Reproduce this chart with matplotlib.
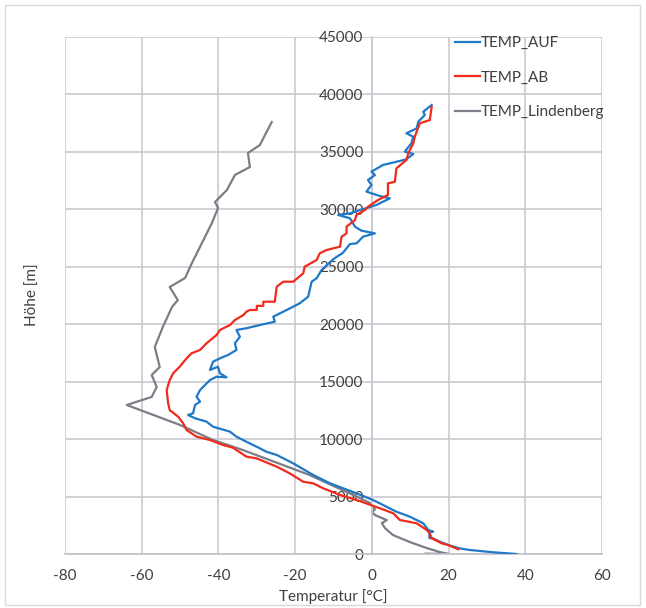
import matplotlib
matplotlib.use("Agg")
import matplotlib.pyplot as plt
from matplotlib.patches import Rectangle

# ---------------- data (temperature °C, height m) ----------------
auf_temp = [37.7, 31.6, 25.5, 22.9, 19.9, 17.5, 16.0, 15.0, 15.0, 16.0, 14.7, 13.4, 9.9, 6.4, 3.8,
            0.3, -4.0, -10.9, -15.3, -20.5, -24.8, -27.5, -29.2, -32.7, -35.3, -37.0, -41.4,
            -43.1, -46.1, -47.9, -46.6, -46.1, -44.8, -45.7, -44.8, -43.5, -42.2, -40.5, -37.9,
            -39.6, -40.1, -42.2, -41.4, -39.6, -37.5, -35.3, -35.7, -34.4, -35.3, -32.7, -29.2,
            -25.3, -25.7, -22.2, -18.8, -16.6, -15.7, -14.4, -13.1, -10.1, -7.5, -5.7, -4.0,
            -2.3, 0.8, -2.7, -4.4, -5.7, -8.8, -5.7, -3.1, 1.2, 4.7, 2.1, -1.4, -0.1, -1.0, 0.8,
            -0.1, 2.9, 6.4, 9.0, 10.8, 8.6, 10.3, 10.8, 9.0, 11.7, 12.1, 13.8, 13.4, 15.6]
auf_height = [0, 150, 350, 490, 780, 1100, 1350, 1400, 1900, 1940, 2090, 2670, 3250, 3680, 4120,
              4700, 5280, 6150, 6880, 7890, 8620, 8900, 9200, 9770, 10210, 10650, 11080,
              11520, 11810, 12100, 12250, 12970, 13260, 13690, 14270, 14710, 15140, 15430, 15380,
              15730, 16300, 16020, 16740, 17030, 17320, 17760, 18340, 18910, 19500, 19650, 19930,
              20220, 20660, 21240, 21820, 22400, 23700, 24000, 24720, 25650, 26230, 26980, 27040,
              27620, 27910, 28140, 28490, 29220, 29510, 29650, 29940, 30380, 30960, 31160, 31540,
              32120, 32550, 32990, 33280, 33860, 34140, 34350, 34820, 35020, 35750, 36320, 36620,
              37050, 37630, 38210, 38500, 39080]

ab_temp = [22.5, 19.9, 18.2, 15.6, 15.1, 14.3, 11.7, 7.3, 5.6, 2.1, -3.1, -8.3, -12.7, -15.3,
           -17.9, -21.4, -24.8, -30.1, -32.7, -36.2, -38.8, -42.2, -45.7, -48.3, -49.2, -50.5,
           -52.7, -53.1, -53.5, -52.7, -51.8, -50.1, -48.3, -47.0, -44.8, -43.1, -40.5, -39.6,
           -37.0, -35.7, -33.5, -32.7, -31.8, -30.0, -30.0, -28.3, -28.3, -25.3, -24.8, -23.1,
           -20.5, -17.9, -17.5, -14.4, -13.6, -11.8, -8.3, -7.9, -6.6, -6.6, -4.4, -4.0, -1.8,
           -1.0, 1.6, 4.2, 4.2, 6.0, 6.4, 9.0, 9.5, 10.8, 11.2, 12.5, 15.1, 15.6]
ab_height = [410, 780, 930, 1370, 1800, 2090, 2670, 2960, 3540, 3980, 4600, 5140, 5720, 6150,
             6290, 7020, 7600, 8330, 8470, 9250, 9490, 9920, 10210, 10790, 11380, 11950, 12530,
             13120, 14270, 15140, 15730, 16300, 17030, 17470, 17760, 18340, 19060, 19500, 19930,
             20370, 20800, 21090, 21240, 21240, 21600, 21600, 21960, 21960, 23270, 23700, 23700,
             24430, 25010, 25590, 26170, 26460, 26750, 27620, 27910, 28490, 29070, 29510, 29940,
             30230, 30810, 31250, 32260, 32400, 33570, 34290, 34880, 35750, 36320, 37490, 37770,
             38930]

lind_temp = [14.0, 20.0, 17.7, 14.3, 9.9, 5.5, 3.4, 2.6, 3.9, 0.8, 0.0, 0.8, -0.5, -3.1, -10.2,
             -11.7, -16.2, -33.6, -41.4, -50.0, -63.9, -57.4, -56.1, -57.4, -55.3, -56.6, -54.5,
             -52.1, -50.6, -52.7, -48.7, -46.9, -41.7, -40.1, -40.9, -37.8, -35.7, -31.8, -32.3,
             -29.2, -26.1]
lind_height = [30, 0, 170, 520, 1040, 1650, 2260, 2700, 2950, 3390, 3660, 3900, 4440, 4870, 5950,
               6180, 6870, 9050, 9920, 11230, 12970, 13670, 14540, 15580, 16280, 18020, 19760,
               21500, 22100, 23240, 24020, 25330, 28810, 30120, 30640, 31680, 32990, 33680, 34900,
               35600, 37600]

x_ticks = [-80, -60, -40, -20, 0, 20, 40, 60]
y_ticks = [0, 5000, 10000, 15000, 20000, 25000, 30000, 35000, 40000, 45000]

series_names = ["TEMP_AUF", "TEMP_AB", "TEMP_Lindenberg"]
colors = ["#1f78c8", "#f22a1c", "#7d7d88"]

# ---------------- figure ----------------
plt.rcParams['font.family'] = ['Lato', 'DejaVu Sans']
W, H = 646, 608
fig = plt.figure(figsize=(W / 100, H / 100), dpi=100)
fig.patches.append(Rectangle((5 / W, 3 / H), 635 / W, 600 / H, transform=fig.transFigure,
                             fill=False, edgecolor="#d9d9d9", linewidth=1.0))

ax = fig.add_axes([65 / W, (H - 554) / H, (602 - 65) / W, (554 - 37) / H])
ax.set_xlim(-80, 60)
ax.set_ylim(0, 45000)

grid_c = "#c9c9d1"
ax.grid(True, color=grid_c, linewidth=1.2)
ax.set_axisbelow(True)
for s in ["top", "right"]:
    ax.spines[s].set_visible(False)
ax.spines["left"].set_position(("data", 0))
ax.spines["left"].set_color(grid_c)
ax.spines["left"].set_linewidth(1.2)
ax.spines["bottom"].set_color("#c0c0c8")
ax.spines["bottom"].set_linewidth(1.2)

ax.set_xticks(x_ticks)
ax.set_xticklabels([str(v) for v in x_ticks])
ax.set_yticks(y_ticks)
ax.set_yticklabels([str(v) for v in y_ticks])
ax.tick_params(axis="both", length=0, labelsize=11, labelcolor="#404040")
ax.tick_params(axis="x", pad=11)
ax.tick_params(axis="y", pad=6)

lw = 1.6
ax.plot(auf_temp, auf_height, color=colors[0], lw=lw, label=series_names[0], zorder=3)
ax.plot(ab_temp, ab_height, color=colors[1], lw=lw, label=series_names[1], zorder=4)
ax.plot(lind_temp, lind_height, color=colors[2], lw=lw, label=series_names[2], zorder=2)

fig.legend(loc="upper left", bbox_to_anchor=(449 / W, 1 - 30 / H), frameon=False,
           fontsize=11, handlelength=1.6, handletextpad=0.1, labelspacing=1.35,
           labelcolor="#404040", borderaxespad=0)

fig.text(333.5 / W, 1 - 597 / H, "Temperatur [°C]", ha="center", va="center",
         fontsize=11, color="#404040")
fig.text(33 / W, 1 - 295 / H, "Höhe [m]", ha="center", va="center", rotation=90,
         fontsize=11, color="#404040")

fig.savefig("out.png", dpi=100, facecolor="white")
